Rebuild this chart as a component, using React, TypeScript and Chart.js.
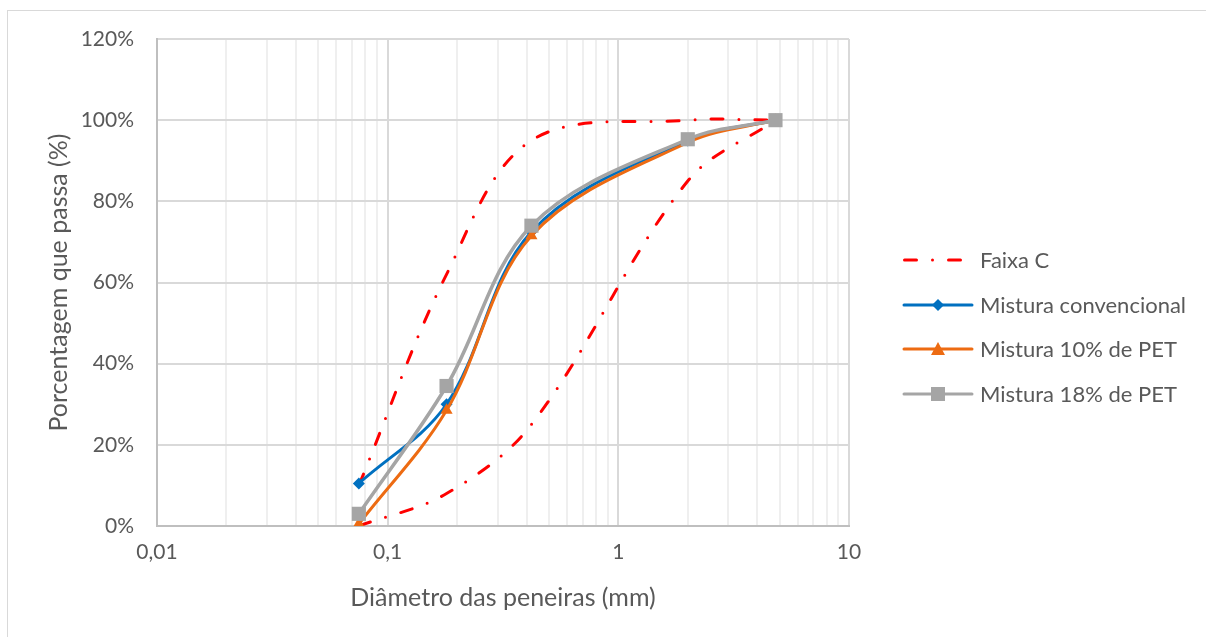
import React, { useEffect, useRef } from "react";
import { Chart, registerables } from "chart.js";

Chart.register(...registerables);

const sieves = [0.075, 0.18, 0.42, 2.0, 4.8];
const faixaUpper = [10, 62, 95, 100, 100];
const faixaLower = [0, 8, 25, 85, 100];
const misturaConvencional = [10.5, 30, 72.5, 95, 100];
const mistura10 = [0.5, 28.5, 71.5, 94.5, 100];
const mistura18 = [3, 34.5, 74, 95.3, 100];

const xTickLabels: Record<string, string> = { "0.01": "0,01", "0.1": "0,1", "1": "1", "10": "10" };
const legendLabels = ["Faixa C", "Mistura convencional", "Mistura 10% de PET", "Mistura 18% de PET"];

const RED = "#FF0000";
const BLUE = "#0070C0";
const ORANGE = "#ED6B12";
const GRAY = "#A5A5A5";
const TEXT = "#595959";
const FONT = "Lato";
const FAIXA_DASH = [12, 16, 0, 16];

const toXY = (xs: number[], ys: number[]) => xs.map((x, i) => ({ x, y: ys[i] }));

const legendPlugin = {
  id: "customLegend",
  afterDraw(chart: any) {
    const ctx = chart.ctx;
    const rows = [260, 305, 349, 394];
    const x0 = 903, x1 = 973, tx = 980;
    ctx.save();
    ctx.font = `22px ${FONT}`;
    ctx.fillStyle = TEXT;
    ctx.textBaseline = "middle";
    rows.forEach((y, i) => {
      ctx.beginPath();
      ctx.lineWidth = 3;
      if (i === 0) {
        ctx.strokeStyle = RED;
        ctx.lineCap = "round";
        ctx.setLineDash(FAIXA_DASH);
        ctx.moveTo(x0 + 1.5, y);
        ctx.lineTo(x0 + 58, y);
        ctx.stroke();
        ctx.setLineDash([]);
        ctx.lineCap = "butt";
      } else {
        const color = [BLUE, ORANGE, GRAY][i - 1];
        ctx.strokeStyle = color;
        ctx.lineCap = "round";
        ctx.moveTo(x0 + 1, y);
        ctx.lineTo(x1 - 1, y);
        ctx.stroke();
        ctx.lineCap = "butt";
        ctx.fillStyle = color;
        const cx = (x0 + x1) / 2;
        ctx.beginPath();
        if (i === 1) {
          ctx.moveTo(cx, y - 6); ctx.lineTo(cx + 6, y); ctx.lineTo(cx, y + 6); ctx.lineTo(cx - 6, y); ctx.closePath();
        } else if (i === 2) {
          ctx.moveTo(cx, y - 7); ctx.lineTo(cx + 7, y + 6); ctx.lineTo(cx - 7, y + 6); ctx.closePath();
        } else {
          ctx.rect(cx - 7, y - 7, 14, 14);
        }
        ctx.fill();
      }
      ctx.fillStyle = TEXT;
      ctx.fillText(legendLabels[i], tx, y + 1);
    });
    ctx.restore();
  },
};

export default function App() {
  const ref = useRef<HTMLCanvasElement | null>(null);
  useEffect(() => {
    if (!ref.current) return;
    const lineBase = { showLine: true, borderWidth: 3, tension: 0.35, fill: false };
    const chart = new Chart(ref.current, {
      type: "scatter",
      data: {
        datasets: [
          {
            ...lineBase,
            label: "Faixa C",
            data: toXY(sieves, faixaUpper),
            borderColor: RED,
            borderDash: FAIXA_DASH,
            borderCapStyle: "round",
            pointRadius: 0,
            order: 5,
          },
          {
            ...lineBase,
            label: "Faixa C inf",
            data: toXY(sieves, faixaLower),
            borderColor: RED,
            borderDash: FAIXA_DASH,
            borderCapStyle: "round",
            pointRadius: 0,
            order: 4,
          },
          {
            ...lineBase,
            label: legendLabels[1],
            data: toXY(sieves, misturaConvencional),
            borderColor: BLUE,
            backgroundColor: BLUE,
            pointStyle: "rectRot",
            pointRadius: 6,
            pointBorderWidth: 0,
            order: 3,
          },
          {
            ...lineBase,
            label: legendLabels[2],
            data: toXY(sieves, mistura10),
            borderColor: ORANGE,
            backgroundColor: ORANGE,
            pointStyle: "triangle",
            pointRadius: 7,
            pointBorderWidth: 0,
            order: 2,
          },
          {
            ...lineBase,
            label: legendLabels[3],
            data: toXY(sieves, mistura18),
            borderColor: GRAY,
            backgroundColor: GRAY,
            pointStyle: "rect",
            pointRadius: 10,
            pointBorderWidth: 0,
            borderWidth: 3.5,
            order: 1,
          },
        ],
      },
      options: {
        responsive: false,
        animation: false,
        devicePixelRatio: 1,
        layout: { padding: { top: 39, right: 357, left: 0, bottom: 0 } },
        plugins: { legend: { display: false }, tooltip: { enabled: false }, title: { display: false } },
        scales: {
          x: {
            type: "logarithmic",
            min: 0.01,
            max: 10,
            afterBuildTicks(scale: any) {
              const t: any[] = [];
              for (let e = -2; e <= 0; e++) {
                for (let m = 1; m <= 9; m++) t.push({ value: +(m * Math.pow(10, e)).toPrecision(3), major: m === 1 });
              }
              t.push({ value: 10, major: true });
              scale.ticks = t;
            },
            afterFit(scale: any) { scale.height = 111; },
            ticks: {
              autoSkip: false,
              maxRotation: 0,
              padding: 14,
              color: TEXT,
              font: { family: FONT, size: 21 },
              callback: (v: any) => xTickLabels[String(v)] ?? "",
            },
            grid: {
              drawTicks: false,
              color: (c: any) => {
                const v = c.tick ? c.tick.value : 0;
                const l = Math.log10(v);
                return Math.abs(l - Math.round(l)) < 1e-6 ? "#D9D9D9" : "#EFEFEF";
              },
              lineWidth: 2,
            },
            border: { color: "#BFBFBF", width: 2 },
            title: {
              display: true,
              text: "Diâmetro das peneiras (mm)",
              color: TEXT,
              font: { family: FONT, size: 25, lineHeight: 1.2 },
              padding: { top: 0, bottom: 24 },
            },
          },
          y: {
            min: 0,
            max: 120,
            afterFit(scale: any) { scale.width = 157; },
            ticks: {
              stepSize: 20,
              padding: 23,
              color: TEXT,
              font: { family: FONT, size: 21 },
              callback: (v: any) => `${v}%`,
            },
            grid: { drawTicks: false, color: "#D9D9D9", lineWidth: 2 },
            border: { color: "#BFBFBF", width: 2 },
            title: {
              display: true,
              text: "Porcentagem que passa (%)",
              color: TEXT,
              font: { family: FONT, size: 25, lineHeight: 1.2 },
              padding: { top: 44, bottom: 0 },
            },
          },
        },
      },
      plugins: [legendPlugin],
    } as any);
    return () => chart.destroy();
  }, []);
  return (
    <div style={{ position: "absolute", left: 0, top: 0, width: 1206, height: 637, background: "#fff" }}>
      <div style={{ position: "absolute", left: 7, top: 10, width: 1220, height: 660, border: "1px solid #D9D9D9", boxSizing: "border-box" }} />
      <canvas ref={ref} width={1206} height={637} style={{ position: "absolute", left: 0, top: 0 }} />
    </div>
  );
}
